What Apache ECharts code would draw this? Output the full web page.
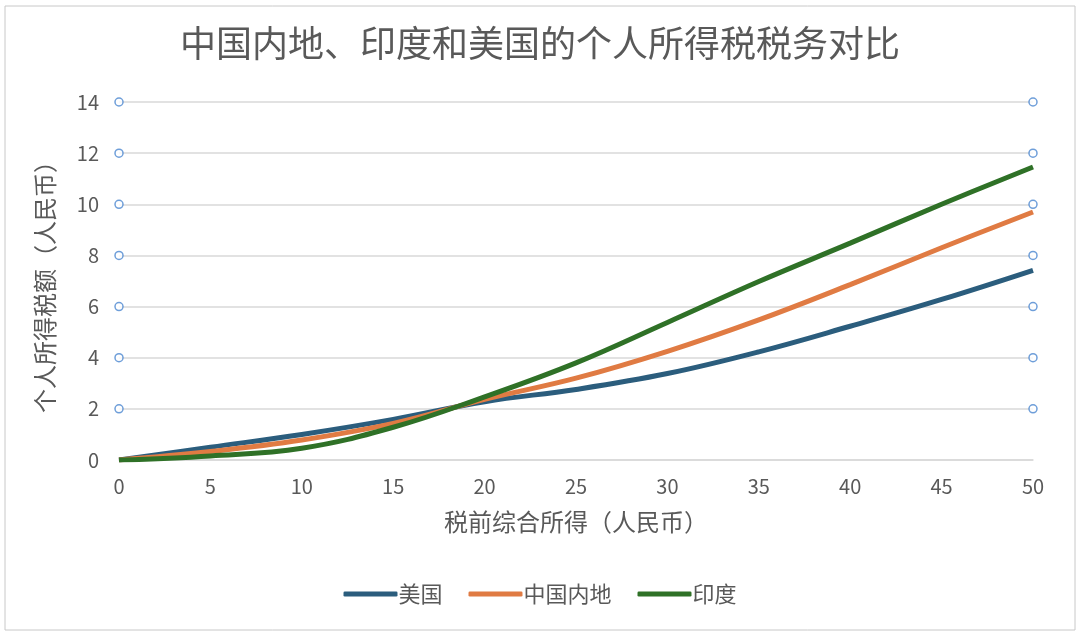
<!DOCTYPE html>
<html>
<head>
<meta charset="utf-8">
<title>中国内地、印度和美国的个人所得税税务对比</title>
<script src="https://cdn.jsdelivr.net/npm/echarts@6/dist/echarts.min.js"></script>
<style>
html, body { margin: 0; padding: 0; background: #fff; }
#chart { width: 1080px; height: 636px; }
</style>
</head>
<body>
<div id="chart"></div>
<script>
// 税前综合所得
var incomeArr = [0, 5, 10, 15, 20, 25, 30, 35, 40, 45, 50];
// 个人所得税额
var usArr = [0, 0.5, 1.0, 1.59, 2.28, 2.76, 3.38, 4.23, 5.23, 6.28, 7.42];
var cnArr = [0, 0.33, 0.78, 1.43, 2.37, 3.2, 4.25, 5.48, 6.86, 8.3, 9.7];
var inArr = [0, 0.16, 0.46, 1.28, 2.47, 3.8, 5.38, 6.98, 8.48, 10.0, 11.46];
// 网格线上的选中手柄
var handleY = [2, 4, 6, 8, 10, 12, 14];

function pairs(xs, ys) {
	var out = [];
	for (var i = 0; i < xs.length; i++) {
		out.push([xs[i], ys[i]]);
	}
	return out;
}

var handleArr = [];
for (var i = 0; i < handleY.length; i++) {
	handleArr.push([0, handleY[i]]);
	handleArr.push([50, handleY[i]]);
}

var font = '"Noto Sans CJK SC", "Noto Sans", sans-serif';
var textColor = '#595959';

var chart = echarts.init(document.getElementById('chart'));
var option = {
	backgroundColor : '#fff',
	animation : false,
	textStyle : { fontFamily : font },
	title : {
		text : '中国内地、印度和美国的个人所得税税务对比',
		left : 'center',
		top : 20,
		textStyle : { fontSize : 36, fontWeight : 'normal', color : textColor, fontFamily : font }
	},
	legend : {
		bottom : 26,
		left : 'center',
		itemWidth : 54,
		itemHeight : 5,
		itemGap : 26,
		icon : 'roundRect',
		data : [ '美国', '中国内地', '印度' ],
		textStyle : { fontSize : 22, color : textColor, padding : [0, 0, 0, -4] }
	},
	grid : {
		left : 119,
		right : 47,
		top : 102,
		bottom : 176
	},
	xAxis : {
		type : 'value',
		min : 0,
		max : 50,
		interval : 5,
		name : '税前综合所得（人民币）',
		nameLocation : 'middle',
		nameGap : 50,
		nameTextStyle : { fontSize : 24, color : textColor },
		axisLine : { show : true, lineStyle : { color : '#d9d9d9', width : 1.5 } },
		axisTick : { show : false },
		splitLine : { show : false },
		axisLabel : { fontSize : 20, color : textColor, margin : 16 }
	},
	yAxis : {
		type : 'value',
		min : 0,
		max : 14,
		interval : 2,
		name : '个人所得税额（人民币）',
		nameLocation : 'middle',
		nameGap : 62,
		nameTextStyle : { fontSize : 24, color : textColor },
		axisLine : { show : false },
		axisTick : { show : false },
		splitLine : { lineStyle : { color : '#d9d9d9', width : 1.5 } },
		axisLabel : { fontSize : 20, color : textColor, margin : 20 }
	},
	series : [
		{
			name : '美国',
			type : 'line',
			smooth : 0.4,
			showSymbol : false,
			data : pairs(incomeArr, usArr),
			lineStyle : { width : 5, color : '#2b5d7d' },
			itemStyle : { color : '#2b5d7d' }
		},
		{
			name : '中国内地',
			type : 'line',
			smooth : 0.4,
			showSymbol : false,
			data : pairs(incomeArr, cnArr),
			lineStyle : { width : 5, color : '#e07b43' },
			itemStyle : { color : '#e07b43' }
		},
		{
			name : '印度',
			type : 'line',
			smooth : 0.4,
			showSymbol : false,
			data : pairs(incomeArr, inArr),
			lineStyle : { width : 5, color : '#2f7127' },
			itemStyle : { color : '#2f7127' }
		},
		{
			name : 'handles',
			type : 'scatter',
			silent : true,
			symbol : 'circle',
			symbolSize : 8,
			data : handleArr,
			itemStyle : { color : '#fff', borderColor : '#4a86d0', borderWidth : 1.5 },
			z : 10
		}
	],
	graphic : [
		{
			type : 'rect',
			shape : { x : 5, y : 6, width : 1070, height : 624 },
			style : { fill : 'none', stroke : '#c8c8c8', lineWidth : 1 },
			silent : true
		}
	]
};
chart.setOption(option);
window.onresize = chart.resize;
</script>
</body>
</html>
